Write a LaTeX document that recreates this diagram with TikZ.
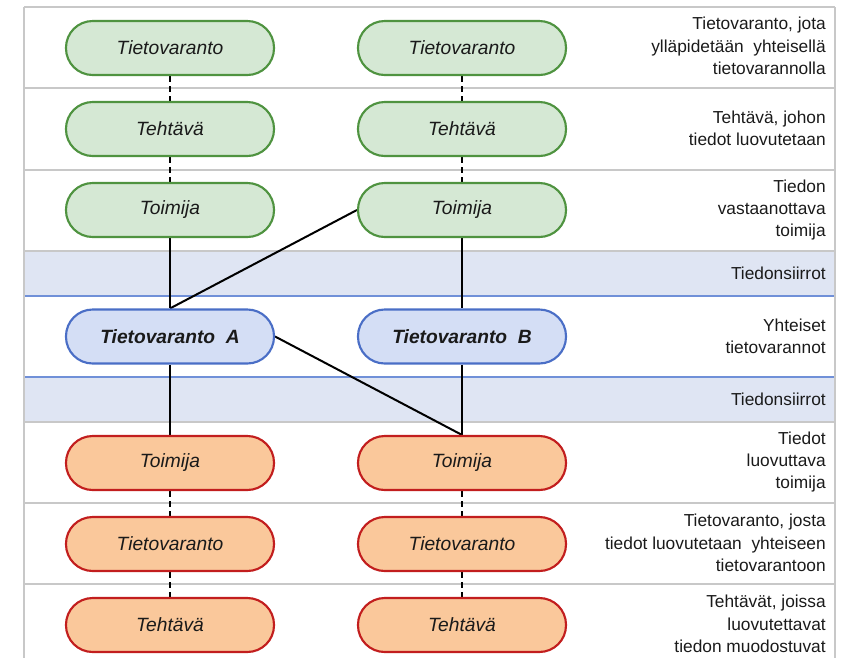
\documentclass[tikz,border=0pt]{standalone}
\usepackage{fontspec}
\setmainfont{Liberation Sans}

\definecolor{gridgray}{HTML}{C8C8C8}
\definecolor{bandfill}{HTML}{DFE5F3}
\definecolor{bandline}{HTML}{7090D8}
\definecolor{greenfill}{HTML}{D5E8D4}
\definecolor{greenline}{HTML}{4F9340}
\definecolor{bluefill}{HTML}{D4DEF5}
\definecolor{blueline}{HTML}{4A6EC6}
\definecolor{orangefill}{HTML}{FAC89B}
\definecolor{orangeline}{HTML}{C21E1E}
\definecolor{textgray}{HTML}{1A1A1A}

\pgfdeclarelayer{grid}
\pgfdeclarelayer{links}
\pgfsetlayers{grid,links,main}

\begin{document}
\begin{tikzpicture}[x=0.75pt,y=-0.75pt,
  pill/.style={rounded corners=20pt, minimum width=156pt, minimum height=40.5pt,
    line width=1.6pt, inner sep=0pt, font=\fontsize{14.4}{17}\selectfont\itshape,
    text=textgray},
  upper/.style={pill, fill=greenfill, draw=greenline},
  shared/.style={pill, fill=bluefill, draw=blueline,
    font=\fontsize{14.4}{17}\selectfont\bfseries\itshape},
  lower/.style={pill, fill=orangefill, draw=orangeline},
  rowlabel/.style={anchor=east, align=right, inner sep=0pt,
    font=\fontsize{13}{16.8}\selectfont, text=textgray},
  gridline/.style={draw=gridgray, line width=1.1pt},
  blueedge/.style={draw=bandline, line width=1.1pt},
  link/.style={line width=1.5pt, black},
  dottedlink/.style={link, line width=1.7pt, dash pattern=on 4.5pt off 3pt}]

\useasboundingbox (0,0) rectangle (857,658);

% left column (x=170) and right column (x=462)
\node[upper] (l1) at (170,48) {Tietovaranto};
\node[upper] (l2) at (170,129) {Tehtävä};
\node[upper] (l3) at (170,210) {Toimija};
\node[shared] (A) at (170,336.5) {Tietovaranto\ \ A};
\node[lower] (l4) at (170,463) {Toimija};
\node[lower] (l5) at (170,544) {Tietovaranto};
\node[lower] (l6) at (170,625) {Tehtävä};

\node[upper] (r1) at (462,48) {Tietovaranto};
\node[upper] (r2) at (462,129) {Tehtävä};
\node[upper] (r3) at (462,210) {Toimija};
\node[shared] (B) at (462,336.5) {Tietovaranto\ \ B};
\node[lower] (r4) at (462,463) {Toimija};
\node[lower] (r5) at (462,544) {Tietovaranto};
\node[lower] (r6) at (462,625) {Tehtävä};

% row descriptions
\node[rowlabel] (d1) at (826,46) {Tietovaranto, jota\\ylläpidetään\ \ yhteisellä\\tietovarannolla};
\node[rowlabel] (d2) at (826,128) {Tehtävä, johon\\tiedot luovutetaan};
\node[rowlabel] (d3) at (826,210) {Tiedon\\vastaanottava\\toimija};
\node[rowlabel] (d4) at (826,273.5) {Tiedonsiirrot};
\node[rowlabel] (d5) at (826,336.5) {Yhteiset\\tietovarannot};
\node[rowlabel] (d6) at (826,399.5) {Tiedonsiirrot};
\node[rowlabel] (d7) at (826,462) {Tiedot\\luovuttava\\toimija};
\node[rowlabel] (d8) at (826,543) {Tietovaranto, josta\\tiedot luovutetaan\ \ yhteiseen\\tietovarantoon};
\node[rowlabel] (d9) at (826,624) {Tehtävät, joissa\\luovutettavat\\tiedon muodostuvat};

% table of rows
\begin{pgfonlayer}{grid}
  \fill[bandfill] (24,251) rectangle (835,296);
  \fill[bandfill] (24,377) rectangle (835,422);
  \foreach \yy in {7,88,170,251,422,503,584}
    \draw[gridline] (24,\yy) -- (835,\yy);
  \foreach \yy in {296,377}
    \draw[blueedge] (24,\yy) -- (835,\yy);
  \draw[gridline] (24,7) -- (24,658);
  \draw[gridline] (835,7) -- (835,658);
\end{pgfonlayer}

% connectors
\begin{pgfonlayer}{links}
  \draw[dottedlink] (l1) -- (l2);
  \draw[dottedlink] (l2) -- (l3);
  \draw[dottedlink] (r1) -- (r2);
  \draw[dottedlink] (r2) -- (r3);
  \draw[link] (l3) -- (A);
  \draw[link] (r3) -- (B);
  \draw[link] (r3.west) -- (A.north);
  \draw[link] (A) -- (l4);
  \draw[link] (B) -- (r4);
  \draw[link] (A.east) -- (r4.north);
  \draw[dottedlink] (l4) -- (l5);
  \draw[dottedlink] (l5) -- (l6);
  \draw[dottedlink] (r4) -- (r5);
  \draw[dottedlink] (r5) -- (r6);
\end{pgfonlayer}
\end{tikzpicture}
\end{document}
